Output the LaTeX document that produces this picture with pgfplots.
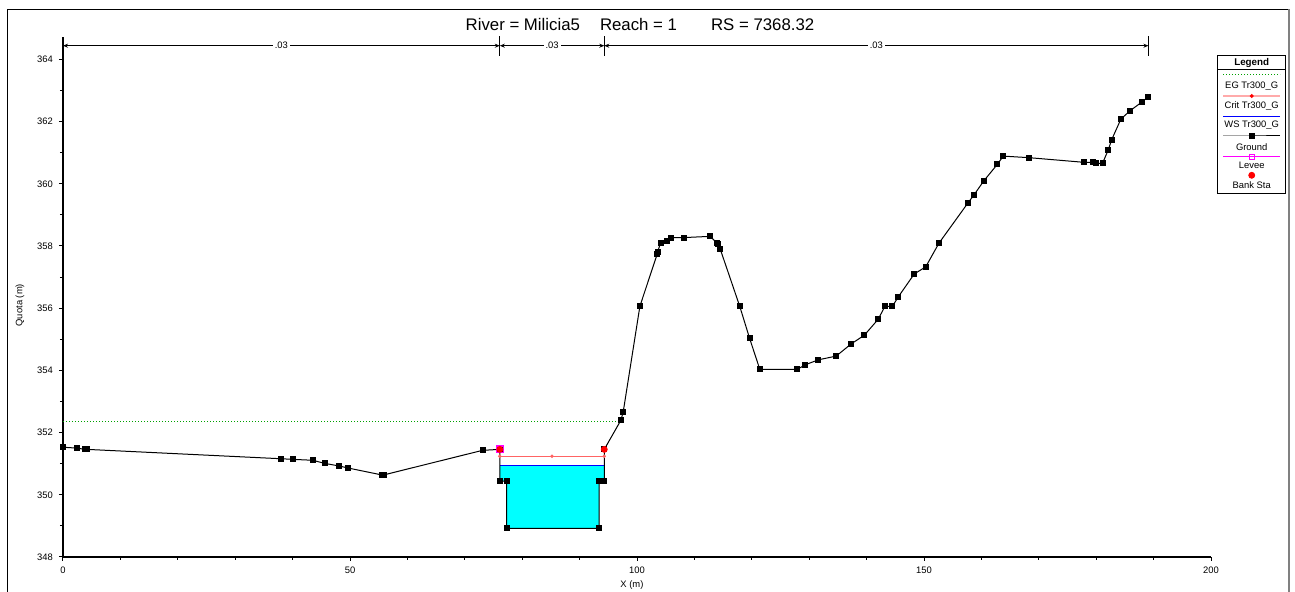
\documentclass[border=0pt]{standalone}
\usepackage{pgfplots}
\pgfplotsset{compat=1.18}
\usepackage{fontspec}
\setmainfont{Liberation Sans}
\usetikzlibrary{arrows.meta}
\newcommand\sm{\fontsize{4.7}{5.5}\selectfont}
\definecolor{critc}{RGB}{255,100,100}
\definecolor{critl}{RGB}{255,170,170}
\definecolor{egc}{RGB}{0,160,0}
\definecolor{aqua}{RGB}{0,255,255}
\definecolor{levc}{RGB}{255,0,255}
\definecolor{bankc}{RGB}{255,0,0}
\begin{document}
\begin{tikzpicture}
\useasboundingbox (-31.5pt,-17.5pt) rectangle (616pt,278.5pt);
\draw[black,line width=0.5pt] (-27.85pt,-20pt) -- (-27.85pt,273.85pt) -- (613pt,273.85pt);
\draw[gray,line width=0.8pt] (613pt,273.85pt) -- (613pt,-20pt);
\begin{axis}[
  at={(0pt,0pt)}, anchor=south west,
  scale only axis, width=574pt, height=260.15pt,
  xmin=0, xmax=200, ymin=348, ymax=364.73,
  axis lines*=left,
  axis line style={line width=0.6pt, black},
  xtick={0,50,100,150,200}, minor x tick num=4,
  ytick={348,350,...,364}, minor y tick num=1,
  tick align=outside,
  major tick length=2pt, minor tick length=1.5pt,
  tick style={black, line width=0.5pt},
  /pgf/number format/assume math mode=true,
  /pgf/number format/1000 sep={},
  ticklabel style={font=\sm},
  xticklabel style={yshift=0.5pt},
  yticklabel style={xshift=0.5pt},
  xlabel={X (m)}, ylabel={Quota (m)},
  xlabel style={font=\sm, at={(axis description cs:0.4956,-0.0538)}, anchor=center},
  ylabel style={font=\sm, at={(axis description cs:-0.0375,0.484)}, anchor=center},
  title={River = Milicia5\hspace{10pt}Reach = 1\hspace{17pt}RS = 7368.32},
  title style={font=\fontsize{8.4}{10}\selectfont, at={(axis description cs:0.5026,1.0013)}, anchor=center},
  clip=false,
]
% water area
\addplot[fill=aqua, draw=none] coordinates {
 (76.1,350.93) (94.3,350.93) (94.3,350.44) (93.4,350.44) (93.4,348.92)
 (77.3,348.92) (77.3,350.44) (76.1,350.44)} -- cycle;
% EG
\addplot[egc, densely dotted, line width=0.5pt] coordinates {(0,352.36) (97.1,352.36)};
% WS
\addplot[blue, line width=0.6pt] coordinates {(76.1,350.93) (94.3,350.93)};
% Crit
\addplot[critc, line width=0.5pt, mark=*, mark size=0.6pt] coordinates {(76.1,351.24) (85.2,351.24) (94.3,351.24)};
% Ground
\addplot[black, line width=0.5pt, mark=square*, mark size=1.25pt] coordinates {
(0,351.53) (2.5,351.50) (3.8,351.46) (4.2,351.46) (37.9,351.16) (40.0,351.14)
(43.5,351.11) (45.6,351.01) (48.0,350.93) (49.7,350.86) (55.5,350.64) (55.9,350.64)
(73.1,351.43) (76.1,351.46) (76.1,350.44) (77.3,350.44) (77.3,348.92) (93.4,348.92)
(93.4,350.44) (94.3,350.44) (94.3,351.46) (97.2,352.40) (97.6,352.67) (100.5,356.06)
(103.5,357.73) (103.6,357.82) (104.1,358.09) (105.2,358.17) (105.9,358.27) (108.1,358.27)
(112.8,358.31) (113.9,358.09) (114.1,358.07) (114.5,357.90) (117.9,356.06) (119.6,355.04)
(121.4,354.03) (127.9,354.03) (129.3,354.18) (131.6,354.34) (134.7,354.46) (137.3,354.85)
(139.6,355.13) (142.0,355.64) (143.2,356.06) (144.5,356.06) (145.5,356.36) (148.3,357.10)
(150.3,357.33) (152.6,358.09) (157.6,359.37) (158.7,359.64) (160.4,360.09) (162.8,360.63)
(163.8,360.89) (168.3,360.84) (177.9,360.69) (179.4,360.69) (179.9,360.66) (181.1,360.66)
(182.1,361.09) (182.7,361.42) (184.3,362.08) (185.9,362.35) (187.9,362.62) (189.1,362.80)};
% Levee
\addplot[only marks, levc, mark=square, mark size=1.7pt, mark options={line width=0.6pt}] coordinates {(76.1,351.46)};
% Bank Sta
\addplot[only marks, bankc, mark=*, mark size=1.5pt] coordinates {(76.1,351.46) (94.3,351.46)};
% Manning n annotation
\addplot[black, line width=0.4pt, <->, >={Stealth[length=2.5pt,width=2pt]}] coordinates {(0,364.44) (76.1,364.44)} node[pos=0.5, fill=white, inner sep=1pt, font=\sm] {.03};
\addplot[black, line width=0.4pt, <->, >={Stealth[length=2.5pt,width=2pt]}] coordinates {(76.1,364.44) (94.3,364.44)} node[pos=0.5, fill=white, inner sep=1pt, font=\sm] {.03};
\addplot[black, line width=0.4pt, <->, >={Stealth[length=2.5pt,width=2pt]}] coordinates {(94.3,364.44) (189.1,364.44)} node[pos=0.5, fill=white, inner sep=1pt, font=\sm] {.03};
\addplot[black, line width=0.6pt] coordinates {(76.1,364.11) (76.1,364.75)};
\addplot[black, line width=0.6pt] coordinates {(94.3,364.11) (94.3,364.75)};
\addplot[black, line width=0.6pt] coordinates {(189.1,364.11) (189.1,364.75)};
\end{axis}
% legend
\begin{axis}[
  at={(577.35pt,250.65pt)}, anchor=north west,
  scale only axis, width=34pt, height=69.15pt,
  xmin=0, xmax=68, ymin=0, ymax=138.3, y dir=reverse,
  xtick=\empty, ytick=\empty,
  axis line style={line width=0.5pt, black},
  clip=false,
]
\node[font=\fontsize{4.9}{5.5}\selectfont\bfseries] at (axis cs:34,7) {Legend};
\addplot[black, line width=0.5pt] coordinates {(0,14.3) (68,14.3)};
\addplot[egc, densely dotted, line width=0.5pt] coordinates {(5.6,19.3) (62.6,19.3)};
\node[font=\sm] at (axis cs:34,30) {EG Tr300\_G};
\addplot[critl, line width=0.6pt, mark=*, mark size=0.6pt, mark options={draw=red,fill=red}, mark indices={2}] coordinates {(5.6,40.3) (34,40.3) (62.6,40.3)};
\node[font=\sm] at (axis cs:34,50.3) {Crit Tr300\_G};
\addplot[blue, line width=0.6pt] coordinates {(5.6,60.6) (62.6,60.6)};
\node[font=\sm] at (axis cs:34,69.6) {WS Tr300\_G};
\addplot[black, line width=0.5pt, mark=square*, mark size=1.25pt, mark indices={2}] coordinates {(5.6,80.3) (34,80.3) (62.6,80.3)};
\node[font=\sm] at (axis cs:34,91) {Ground};
\addplot[levc, line width=0.5pt, mark=square, mark size=1.3pt, mark indices={2}] coordinates {(5.6,101) (34,101) (62.6,101)};
\node[font=\sm] at (axis cs:34,110) {Levee};
\addplot[only marks, bankc, mark=*, mark size=1.5pt] coordinates {(34,119.6)};
\node[font=\sm] at (axis cs:34,129.3) {Bank Sta};
\end{axis}
\end{tikzpicture}
\end{document}
